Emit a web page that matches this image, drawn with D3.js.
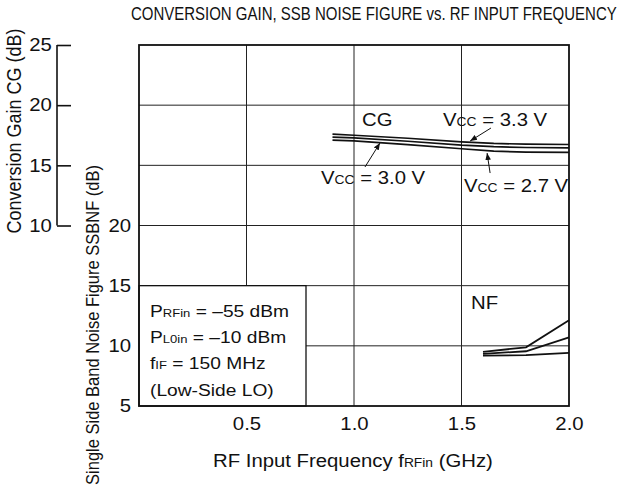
<!DOCTYPE html>
<html><head><meta charset="utf-8">
<script src="https://cdn.jsdelivr.net/npm/d3@7/dist/d3.min.js"></script>
<style>
body{margin:0;background:#fff;}
svg{display:block;font-family:"Liberation Sans",Arial,sans-serif;}
</style></head>
<body><svg id="c" width="622" height="491"></svg>
<script>
// ---- data ----
const freqCG = [0.9, 1.0, 1.25, 1.5, 1.65, 1.8, 2.0];
const cgVcc33 = [17.6, 17.5, 17.25, 16.95, 16.82, 16.76, 16.73];
const cgVcc30 = [17.35, 17.28, 17.0, 16.68, 16.55, 16.48, 16.45];
const cgVcc27 = [17.1, 17.03, 16.72, 16.38, 16.18, 16.1, 16.07];
const freqNF = [1.6, 1.8, 2.0];
const nfVcc27 = [9.5, 9.88, 12.13];
const nfVcc30 = [9.34, 9.55, 10.71];
const nfVcc33 = [9.19, 9.22, 9.41];
const xTicks = [0.5, 1.0, 1.5, 2.0];
const cgTicks = [10, 15, 20, 25];
const nfTicks = [5, 10, 15, 20];
const gridNF = [10, 15, 20, 25, 30];

const S = 1.13; // horizontal glyph stretch of the original artwork
const svg = d3.select("#c");
const L = 139, R = 569, T = 45, B = 406;
const x = d3.scaleLinear().domain([0, 2]).range([L, R]);
const yCG = d3.scaleLinear().domain([-5, 25]).range([B, T]);
const yNF = d3.scaleLinear().domain([5, 35]).range([B, T]);

// rich text helper
function rich(g, px, py, parts, size, anchor, rot) {
  const t = g.append("text").attr("x", 0).attr("y", 0).attr("font-size", size)
    .attr("fill", "#111").attr("text-anchor", anchor || "start")
    .attr("transform", rot ? `translate(${px},${py}) rotate(-90) scale(1,${S})`
                           : `translate(${px},${py}) scale(${S},1)`);
  parts.forEach(p => {
    const s = t.append("tspan").text(p[0]);
    if (p[1]) s.attr("font-size", size * 0.68);
  });
  return t;
}

// title (condensed to the original width)
const title = svg.append("text").attr("x", 0).attr("y", 0).attr("font-size", 17.5)
  .attr("fill", "#111")
  .text("CONVERSION GAIN, SSB NOISE FIGURE vs. RF INPUT FREQUENCY");
const tw = title.node().getComputedTextLength();
title.attr("transform", `translate(131,20) scale(${486 / tw},1)`);

// grid
const grid = svg.append("g").attr("stroke", "#222").attr("stroke-width", 1);
gridNF.forEach(v => grid.append("line").attr("x1", L).attr("x2", R)
  .attr("y1", yNF(v)).attr("y2", yNF(v)));
xTicks.filter(v => v < 2).forEach(v => grid.append("line").attr("x1", x(v)).attr("x2", x(v))
  .attr("y1", T).attr("y2", B));

// annotation box (covers grid)
svg.append("rect").attr("x", L).attr("y", yNF(15)).attr("width", 306 - L)
  .attr("height", B - yNF(15)).attr("fill", "#fff").attr("stroke", "#111").attr("stroke-width", 1.3);

// frame
svg.append("rect").attr("x", L).attr("y", T).attr("width", R - L).attr("height", B - T)
  .attr("fill", "none").attr("stroke", "#111").attr("stroke-width", 1.8);

// CG axis
const cgAx = svg.append("g").attr("transform", "translate(57,0)")
  .call(d3.axisLeft(yCG).tickValues(cgTicks).tickSizeInner(-14).tickSizeOuter(0).tickPadding(4.5));
cgAx.select(".domain").remove();
cgAx.append("line").attr("x1", 0).attr("x2", 0).attr("y1", yCG(10)).attr("y2", yCG(25))
  .attr("stroke", "#111").attr("stroke-width", 1.6);
cgAx.selectAll(".tick line").attr("stroke", "#111").attr("stroke-width", 1.6);

// NF axis
const nfAx = svg.append("g").attr("transform", `translate(${L},0)`)
  .call(d3.axisLeft(yNF).tickValues(nfTicks).tickSize(0).tickPadding(7));
nfAx.select(".domain").remove();

// X axis
const xAx = svg.append("g").attr("transform", `translate(0,${B})`)
  .call(d3.axisBottom(x).tickValues(xTicks).tickFormat(d3.format(".1f")).tickSize(0).tickPadding(11));
xAx.select(".domain").remove();

svg.selectAll(".tick text").attr("font-size", 18).attr("fill", "#111")
  .attr("font-family", "Liberation Sans, Arial, sans-serif")
  .attr("transform", `scale(${S},1)`);

// axis titles
rich(svg, 21, 131, [["Conversion Gain CG (dB)"]], 18, "middle", true);
rich(svg, 99, 325, [["Single Side Band Noise Figure SSBNF (dB)"]], 16.5, "middle", true);
rich(svg, 213, 467, [["RF Input Frequency f"], ["RFin", 1], [" (GHz)"]], 18, "start");

// curves
const lineCG = d3.line().x((d, i) => x(freqCG[i])).y(d => yCG(d));
const lineNF = d3.line().x((d, i) => x(freqNF[i])).y(d => yNF(d));
[cgVcc33, cgVcc30, cgVcc27].forEach(s => svg.append("path").datum(s).attr("d", lineCG)
  .attr("fill", "none").attr("stroke", "#111").attr("stroke-width", 1.7));
[nfVcc27, nfVcc30, nfVcc33].forEach(s => svg.append("path").datum(s).attr("d", lineNF)
  .attr("fill", "none").attr("stroke", "#111").attr("stroke-width", 1.8));

// arrows
svg.append("defs").append("marker").attr("id", "ah").attr("viewBox", "0 0 10 10")
  .attr("refX", 10).attr("refY", 5).attr("markerWidth", 7).attr("markerHeight", 7)
  .attr("markerUnits", "userSpaceOnUse").attr("orient", "auto")
  .append("path").attr("d", "M0,1 L10,5 L0,9 Z").attr("fill", "#111");
const arrows = [
  [[1.637, 18.1], [1.54, 17.02]],
  [[1.051, 14.86], [1.121, 16.86]],
  [[1.633, 14.36], [1.619, 16.02]]
];
arrows.forEach(a => svg.append("line")
  .attr("x1", x(a[0][0])).attr("y1", yCG(a[0][1]))
  .attr("x2", x(a[1][0])).attr("y2", yCG(a[1][1]))
  .attr("stroke", "#111").attr("stroke-width", 1).attr("marker-end", "url(#ah)"));

// labels
rich(svg, 362, 126, [["CG"]], 18);
rich(svg, 443, 126, [["V"], ["CC", 1], [" = 3.3 V"]], 18);
rich(svg, 321, 184, [["V"], ["CC", 1], [" = 3.0 V"]], 18);
rich(svg, 464, 192, [["V"], ["CC", 1], [" = 2.7 V"]], 18);
rich(svg, 471, 309, [["NF"]], 18);

rich(svg, 150, 317, [["P"], ["RFin", 1], [" = –55 dBm"]], 17);
rich(svg, 150, 343, [["P"], ["L0in", 1], [" = –10 dBm"]], 17);
rich(svg, 150, 369, [["f"], ["IF", 1], [" = 150 MHz"]], 17);
rich(svg, 150, 396, [["(Low-Side LO)"]], 17);
</script></body></html>
